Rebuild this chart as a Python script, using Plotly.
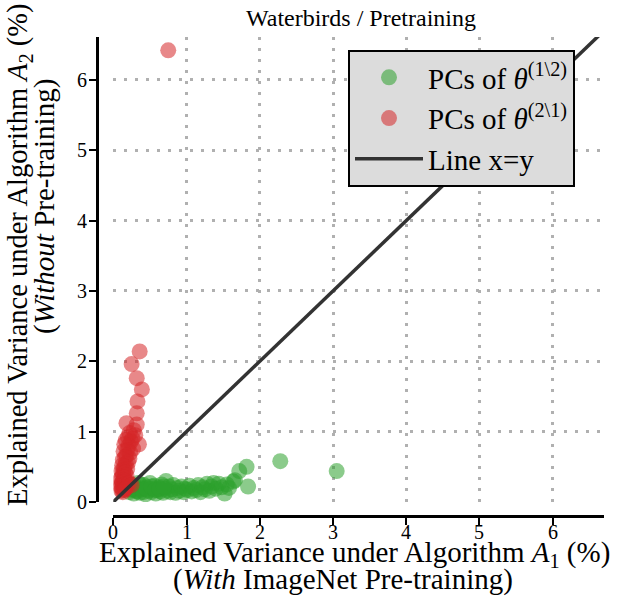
import plotly.graph_objects as go

# ---------------- data ----------------
green_x = [0.20, 0.22, 0.24, 0.26, 0.28, 0.30, 0.32, 0.34, 0.36, 0.38,
           0.40, 0.42, 0.44, 0.46, 0.48, 0.50, 0.52, 0.54, 0.56, 0.58,
           0.60, 0.62, 0.64, 0.66, 0.68, 0.70, 0.72, 0.74, 0.76, 0.78,
           0.80, 0.82, 0.85, 0.88, 0.90, 0.93, 0.96, 0.98, 1.01, 1.04,
           1.07, 1.10, 1.13, 1.16, 1.19, 1.22, 1.25, 1.28, 1.31, 1.34,
           1.37, 1.40, 1.44, 1.48, 1.52, 1.55, 1.58, 1.64, 1.66, 1.72,
           1.82, 1.84, 2.28, 3.05, 0.25, 0.29, 0.33, 0.37, 0.41, 0.45,
           0.52, 0.57, 0.63, 0.69]
green_y = [0.20, 0.14, 0.25, 0.17, 0.12, 0.22, 0.16, 0.27, 0.13, 0.20,
           0.18, 0.24, 0.11, 0.21, 0.16, 0.27, 0.14, 0.19, 0.23, 0.12,
           0.17, 0.21, 0.15, 0.25, 0.13, 0.19, 0.30, 0.16, 0.22, 0.14,
           0.18, 0.24, 0.13, 0.20, 0.16, 0.22, 0.14, 0.19, 0.17, 0.23,
           0.15, 0.20, 0.17, 0.24, 0.14, 0.21, 0.18, 0.26, 0.16, 0.22,
           0.27, 0.19, 0.26, 0.21, 0.12, 0.25, 0.20, 0.29, 0.31, 0.44,
           0.50, 0.22, 0.58, 0.44, 0.18, 0.21, 0.15, 0.24, 0.14, 0.19,
           0.22, 0.17, 0.19, 0.22]

red_x = [0.75, 0.36, 0.25, 0.32, 0.39, 0.33, 0.32, 0.18, 0.32, 0.35,
         0.30, 0.28, 0.22, 0.26, 0.20, 0.24, 0.17, 0.21, 0.27, 0.15,
         0.19, 0.23, 0.14, 0.18, 0.22, 0.16, 0.13, 0.20, 0.17, 0.12,
         0.15, 0.19, 0.14, 0.11, 0.16, 0.13, 0.18, 0.12, 0.15, 0.10,
         0.14, 0.17, 0.12, 0.11, 0.16, 0.13, 0.10, 0.15, 0.12, 0.18,
         0.14, 0.11, 0.22, 0.25, 0.13, 0.16]
red_y = [6.42, 2.14, 1.96, 1.76, 1.60, 1.43, 1.26, 1.12, 1.10, 0.82,
         0.95, 1.02, 0.98, 0.90, 0.92, 0.86, 0.88, 0.80, 0.76, 0.82,
         0.74, 0.70, 0.72, 0.66, 0.62, 0.64, 0.60, 0.56, 0.54, 0.52,
         0.50, 0.47, 0.45, 0.44, 0.42, 0.40, 0.38, 0.36, 0.35, 0.33,
         0.31, 0.30, 0.28, 0.26, 0.25, 0.24, 0.22, 0.21, 0.19, 0.20,
         0.17, 0.16, 0.27, 0.24, 0.14, 0.18]

identity_line = [0.0, 7.0]
tick_values = [0, 1, 2, 3, 4, 5, 6]
tick_labels = ["0", "1", "2", "3", "4", "5", "6"]

title_text = "Waterbirds / Pretraining"
x_title_1 = "Explained Variance under Algorithm <i>A</i><sub>1</sub> (%)"
x_title_2 = "(<i>With</i> ImageNet Pre-training)"
y_title_1 = "Explained Variance under Algorithm <i>A</i><sub>2</sub> (%)"
y_title_2 = "(<i>Without</i> Pre-training)"
legend_names = ["PCs of <i>θ</i><sup>(1\\2)</sup>",
                "PCs of <i>θ</i><sup>(2\\1)</sup>",
                "Line x=y"]

# ---------------- figure ----------------
W, H = 620, 607
FONT = "Liberation Serif"


def fx(p):
    return p / W


def fy(p):
    return 1 - p / H


fig = go.Figure()
fig.add_trace(go.Scatter(
    x=green_x, y=green_y, mode="markers", name=legend_names[0],
    legendgroup="g",
    marker=dict(color="#2ca02c", size=16, opacity=0.55, line=dict(width=0)),
))
fig.add_trace(go.Scatter(
    x=red_x, y=red_y, mode="markers", name=legend_names[1],
    legendgroup="r",
    marker=dict(color="#d62728", size=16, opacity=0.55, line=dict(width=0)),
))
fig.add_trace(go.Scatter(
    x=identity_line, y=identity_line, mode="lines", name=legend_names[2],
    legendgroup="l",
    line=dict(color="#333333", width=3.5),
))

axis_style = dict(showgrid=True, gridcolor="#b0b0b0", gridwidth=3, griddash="3px,8px",
                  zeroline=False, showline=True, linecolor="black", linewidth=2.5,
                  ticks="outside", ticklen=7, tickwidth=2, tickcolor="black",
                  tickvals=tick_values, showticklabels=False)

annotations = [
    dict(text=title_text, x=fx(361), y=fy(18), xref="paper", yref="paper",
         showarrow=False, xanchor="center", yanchor="middle",
         font=dict(family=FONT, size=24)),
    dict(text=x_title_1, x=fx(354), y=fy(554), xref="paper", yref="paper",
         showarrow=False, xanchor="center", yanchor="middle",
         font=dict(family=FONT, size=29)),
    dict(text=x_title_2, x=fx(343), y=fy(579), xref="paper", yref="paper",
         showarrow=False, xanchor="center", yanchor="middle",
         font=dict(family=FONT, size=29)),
    dict(text=y_title_1, x=fx(20), y=fy(255), xref="paper", yref="paper",
         showarrow=False, xanchor="center", yanchor="middle", textangle=-90,
         font=dict(family=FONT, size=28.5)),
    dict(text=y_title_2, x=fx(45), y=fy(207), xref="paper", yref="paper",
         showarrow=False, xanchor="center", yanchor="middle", textangle=-90,
         font=dict(family=FONT, size=29)),
]
# tick labels placed next to the offset spines
for v, lab in zip(tick_values, tick_labels):
    annotations.append(dict(text=lab, x=v, xref="x", y=fy(532), yref="paper",
                            showarrow=False, xanchor="center", yanchor="middle",
                            font=dict(family=FONT, size=20)))
    annotations.append(dict(text=lab, x=fx(89), xref="paper", y=v, yref="y",
                            showarrow=False, xanchor="right", yanchor="middle",
                            font=dict(family=FONT, size=20)))

fig.update_layout(
    width=W, height=H, autosize=False,
    margin=dict(l=0, r=0, t=0, b=0, autoexpand=False),
    paper_bgcolor="white", plot_bgcolor="white",
    font=dict(family=FONT, color="black"),
    xaxis=dict(domain=[fx(113.3), fx(604)], range=[0, 6.70],
               anchor="free", position=fy(516), **axis_style),
    yaxis=dict(domain=[fy(502), fy(37)], range=[0, 6.61],
               anchor="free", position=fx(97), **axis_style),
    showlegend=True,
    legend=dict(x=fx(348), y=fy(50), xanchor="left", yanchor="top",
                bgcolor="#dcdcdc", bordercolor="black", borderwidth=2,
                font=dict(family=FONT, size=29, color="black"),
                itemwidth=68, tracegroupgap=0),
    annotations=annotations,
)

fig.write_html("out.html", config={"responsive": False})
